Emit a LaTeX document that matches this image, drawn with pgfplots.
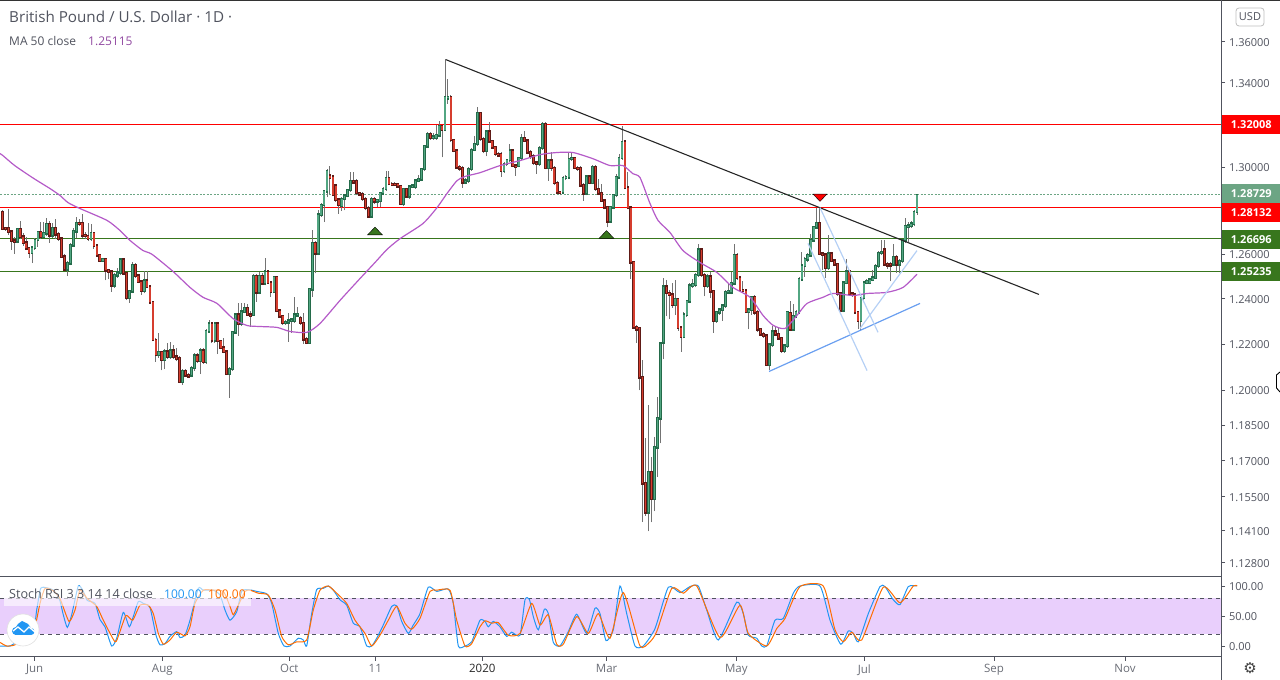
\documentclass[border=0pt]{standalone}
\usepackage{fontspec}
\setmainfont{Open Sans}
\newfontfamily\symfont{DejaVu Sans}
\usepackage{pgfplots}
\usepackage{pgfplotstable}
\pgfplotsset{compat=1.18}
\definecolor{wick}{HTML}{737373}
\definecolor{upfill}{HTML}{52A682}
\definecolor{upedge}{HTML}{246B4A}
\definecolor{dnfill}{HTML}{D63D2E}
\definecolor{dnedge}{HTML}{5E1A16}
\definecolor{maline}{HTML}{B45AC8}
\definecolor{lvlgreen}{HTML}{38761D}
\definecolor{lastgreen}{HTML}{6CA584}
\definecolor{lightblue}{HTML}{B5D0F5}
\definecolor{midblue}{HTML}{6A9FF0}
\definecolor{kblue}{HTML}{2196F3}
\definecolor{dorange}{HTML}{FF6D00}
\definecolor{band}{HTML}{E9CFFC}
\definecolor{txt}{HTML}{50535E}
\definecolor{frame}{HTML}{50535E}

% i  body-low  body-high  wick-low  wick-high
\pgfplotstableread{
i a b lo hi
5 1.2659 1.2713 1.2650 1.2718
10 1.2608 1.2630 1.2560 1.2640
11 1.2630 1.2665 1.2620 1.2675
12 1.2665 1.2700 1.2635 1.2705
14 1.2680 1.2695 1.2672 1.2745
15 1.2695 1.2736 1.2685 1.2765
17 1.2686 1.2720 1.2675 1.2740
22 1.2533 1.2560 1.2502 1.2570
23 1.2560 1.2641 1.2550 1.2650
24 1.2641 1.2704 1.2638 1.2720
25 1.2704 1.2743 1.2672 1.2770
30 1.2670 1.2695 1.2660 1.2736
34 1.2572 1.2578 1.2565 1.2585
38 1.2460 1.2505 1.2450 1.2515
39 1.2505 1.2517 1.2495 1.2540
40 1.2517 1.2575 1.2505 1.2580
43 1.2405 1.2434 1.2383 1.2440
44 1.2434 1.2551 1.2425 1.2565
48 1.2437 1.2481 1.2425 1.2525
53 1.2154 1.2164 1.2140 1.2250
55 1.2132 1.2167 1.2090 1.2178
57 1.2146 1.2171 1.2135 1.2211
61 1.2037 1.2083 1.2023 1.2090
64 1.2065 1.2096 1.2055 1.2105
65 1.2096 1.2150 1.2085 1.2160
67 1.2128 1.2171 1.2069 1.2185
69 1.2124 1.2257 1.2115 1.2265
70 1.2257 1.2289 1.2250 1.2307
72 1.2217 1.2289 1.2205 1.2295
77 1.2071 1.2092 1.1967 1.2100
78 1.2092 1.2253 1.2085 1.2260
79 1.2253 1.2330 1.2245 1.2335
81 1.2290 1.2344 1.2280 1.2380
82 1.2344 1.2358 1.2338 1.2380
85 1.2331 1.2502 1.2325 1.2510
87 1.2429 1.2502 1.2420 1.2520
89 1.2470 1.2521 1.2460 1.2582
92 1.2432 1.2496 1.2425 1.2500
96 1.2293 1.2297 1.2285 1.2305
97 1.2296 1.2304 1.2210 1.2337
98 1.2303 1.2307 1.2250 1.2315
99 1.2304 1.2330 1.2295 1.2410
100 1.2328 1.2332 1.2320 1.2366
104 1.2207 1.2443 1.2205 1.2450
105 1.2443 1.2650 1.2410 1.2710
107 1.2605 1.2781 1.2595 1.2800
108 1.2781 1.2825 1.2770 1.2835
109 1.2825 1.2889 1.2746 1.2895
110 1.2889 1.2982 1.2860 1.2992
115 1.2822 1.2853 1.2799 1.2860
116 1.2853 1.2868 1.2800 1.2875
117 1.2868 1.2894 1.2860 1.2900
118 1.2894 1.2936 1.2885 1.2977
125 1.2773 1.2851 1.2768 1.2860
127 1.2842 1.2847 1.2815 1.2855
128 1.2845 1.2879 1.2815 1.2885
129 1.2879 1.2899 1.2870 1.2910
130 1.2899 1.2950 1.2890 1.2985
136 1.2830 1.2899 1.2820 1.2905
138 1.2865 1.2910 1.2855 1.2916
139 1.2910 1.2914 1.2905 1.2922
140 1.2910 1.2938 1.2900 1.2945
141 1.2938 1.2945 1.2930 1.2965
142 1.2945 1.2992 1.2935 1.2998
143 1.2992 1.3098 1.2985 1.3105
144 1.3098 1.3156 1.3090 1.3167
146 1.3137 1.3143 1.3130 1.3160
147 1.3137 1.3151 1.3130 1.3200
148 1.3151 1.3193 1.3140 1.3219
150 1.3175 1.3331 1.3168 1.3514
151 1.3325 1.3331 1.3300 1.3419
157 1.2930 1.2938 1.2920 1.2950
158 1.2938 1.2992 1.2925 1.3000
159 1.2992 1.3081 1.2985 1.3090
160 1.3081 1.3109 1.3075 1.3148
161 1.3109 1.3254 1.3100 1.3282
164 1.3078 1.3167 1.3051 1.3175
170 1.2982 1.3015 1.2975 1.3025
171 1.3015 1.3034 1.3005 1.3040
172 1.3034 1.3078 1.3025 1.3109
175 1.3007 1.3043 1.3000 1.3050
176 1.3043 1.3137 1.3035 1.3156
182 1.3015 1.3090 1.3005 1.3100
183 1.3090 1.3204 1.3080 1.3212
185 1.2997 1.3031 1.2938 1.3040
190 1.2885 1.2950 1.2875 1.2960
191 1.2950 1.2953 1.2940 1.2965
192 1.2953 1.3039 1.2945 1.3070
193 1.3039 1.3043 1.3030 1.3070
198 1.2879 1.2956 1.2870 1.2965
200 1.2927 1.3002 1.2920 1.3012
206 1.2750 1.2814 1.2746 1.2820
207 1.2814 1.2871 1.2805 1.2875
208 1.2871 1.2953 1.2860 1.2969
209 1.2953 1.3043 1.2945 1.3060
210 1.3043 1.3118 1.3035 1.3192
219 1.1485 1.1651 1.1407 1.1935
221 1.1542 1.1756 1.1489 1.1799
222 1.1756 1.1879 1.1634 1.1973
223 1.1879 1.2203 1.1773 1.2210
224 1.2208 1.2455 1.2134 1.2492
228 1.2374 1.2399 1.2330 1.2485
231 1.2233 1.2330 1.2225 1.2340
232 1.2330 1.2389 1.2320 1.2395
233 1.2389 1.2459 1.2380 1.2470
234 1.2459 1.2465 1.2450 1.2488
235 1.2462 1.2507 1.2453 1.2515
236 1.2507 1.2621 1.2498 1.2648
239 1.2458 1.2500 1.2450 1.2510
242 1.2302 1.2340 1.2295 1.2348
243 1.2340 1.2352 1.2330 1.2360
244 1.2352 1.2369 1.2302 1.2378
245 1.2369 1.2429 1.2360 1.2440
246 1.2429 1.2433 1.2420 1.2470
247 1.2429 1.2470 1.2420 1.2522
248 1.2470 1.2596 1.2460 1.2645
253 1.2344 1.2352 1.2265 1.2360
254 1.2352 1.2408 1.2330 1.2415
260 1.2109 1.2197 1.2088 1.2205
261 1.2197 1.2254 1.2188 1.2280
265 1.2170 1.2194 1.2162 1.2202
266 1.2194 1.2340 1.2185 1.2348
268 1.2265 1.2323 1.2257 1.2375
269 1.2323 1.2340 1.2315 1.2350
270 1.2340 1.2488 1.2332 1.2497
271 1.2488 1.2549 1.2480 1.2611
272 1.2549 1.2577 1.2499 1.2590
273 1.2577 1.2596 1.2565 1.2605
274 1.2596 1.2663 1.2588 1.2694
275 1.2663 1.2724 1.2655 1.2730
276 1.2724 1.2742 1.2715 1.2812
280 1.2539 1.2603 1.2530 1.2686
285 1.2349 1.2473 1.2340 1.2480
286 1.2473 1.2522 1.2465 1.2577
291 1.2302 1.2404 1.2258 1.2410
292 1.2404 1.2473 1.2395 1.2480
293 1.2473 1.2478 1.2465 1.2490
294 1.2473 1.2485 1.2465 1.2495
295 1.2485 1.2495 1.2478 1.2529
296 1.2495 1.2547 1.2488 1.2555
297 1.2547 1.2606 1.2538 1.2615
298 1.2606 1.2611 1.2598 1.2663
302 1.2554 1.2586 1.2545 1.2648
304 1.2554 1.2570 1.2514 1.2578
305 1.2570 1.2663 1.2560 1.2670
306 1.2663 1.2728 1.2650 1.2766
307 1.2728 1.2731 1.2655 1.2745
308 1.2731 1.2739 1.2720 1.2750
309 1.2739 1.2793 1.2727 1.2800
310 1.2793 1.2870 1.2780 1.2877
}\candlesUp

\pgfplotstableread{
i a b lo hi
0 1.2717 1.2792 1.2710 1.2800
1 1.2715 1.2719 1.2708 1.2725
2 1.2702 1.2719 1.2687 1.2807
3 1.2662 1.2702 1.2620 1.2710
4 1.2657 1.2662 1.2602 1.2680
6 1.2680 1.2713 1.2670 1.2750
7 1.2653 1.2680 1.2640 1.2695
8 1.2627 1.2653 1.2620 1.2680
9 1.2608 1.2627 1.2582 1.2635
13 1.2680 1.2700 1.2670 1.2745
16 1.2686 1.2736 1.2653 1.2750
18 1.2690 1.2720 1.2670 1.2762
19 1.2670 1.2690 1.2660 1.2700
20 1.2590 1.2670 1.2585 1.2675
21 1.2533 1.2590 1.2528 1.2600
26 1.2739 1.2743 1.2730 1.2760
27 1.2687 1.2740 1.2675 1.2785
28 1.2683 1.2687 1.2670 1.2700
29 1.2670 1.2683 1.2660 1.2740
31 1.2640 1.2695 1.2625 1.2700
32 1.2596 1.2640 1.2590 1.2645
33 1.2572 1.2596 1.2565 1.2600
35 1.2527 1.2578 1.2482 1.2585
36 1.2521 1.2527 1.2487 1.2535
37 1.2460 1.2521 1.2432 1.2530
41 1.2514 1.2575 1.2505 1.2580
42 1.2405 1.2514 1.2395 1.2520
45 1.2504 1.2551 1.2495 1.2560
46 1.2477 1.2504 1.2470 1.2510
47 1.2437 1.2477 1.2418 1.2485
49 1.2455 1.2481 1.2450 1.2525
50 1.2385 1.2455 1.2380 1.2460
51 1.2218 1.2385 1.2212 1.2390
52 1.2154 1.2218 1.2124 1.2225
54 1.2132 1.2164 1.2086 1.2172
56 1.2146 1.2167 1.2135 1.2207
58 1.2146 1.2171 1.2135 1.2195
59 1.2135 1.2146 1.2125 1.2185
60 1.2037 1.2138 1.2031 1.2150
62 1.2065 1.2083 1.2060 1.2090
63 1.2061 1.2065 1.2055 1.2075
66 1.2128 1.2150 1.2118 1.2160
68 1.2124 1.2171 1.2115 1.2185
71 1.2217 1.2289 1.2205 1.2295
73 1.2214 1.2289 1.2157 1.2295
74 1.2185 1.2214 1.2178 1.2220
75 1.2167 1.2185 1.2160 1.2228
76 1.2071 1.2167 1.2065 1.2175
80 1.2290 1.2330 1.2235 1.2383
83 1.2331 1.2358 1.2325 1.2375
84 1.2328 1.2331 1.2278 1.2345
86 1.2429 1.2502 1.2388 1.2510
88 1.2470 1.2502 1.2465 1.2515
90 1.2473 1.2521 1.2465 1.2530
91 1.2432 1.2473 1.2410 1.2480
93 1.2348 1.2496 1.2340 1.2500
94 1.2322 1.2348 1.2315 1.2355
95 1.2293 1.2322 1.2285 1.2330
101 1.2293 1.2315 1.2285 1.2325
102 1.2221 1.2293 1.2200 1.2337
103 1.2207 1.2221 1.2200 1.2230
106 1.2605 1.2650 1.2514 1.2660
111 1.2950 1.2960 1.2876 1.3007
112 1.2872 1.2956 1.2865 1.2965
113 1.2850 1.2914 1.2840 1.2920
114 1.2825 1.2850 1.2784 1.2855
119 1.2930 1.2936 1.2925 1.2977
120 1.2880 1.2936 1.2870 1.2945
121 1.2874 1.2880 1.2865 1.2885
122 1.2853 1.2875 1.2845 1.2885
123 1.2811 1.2853 1.2800 1.2860
124 1.2773 1.2811 1.2765 1.2820
126 1.2842 1.2851 1.2830 1.2860
131 1.2922 1.2950 1.2915 1.2985
132 1.2918 1.2922 1.2912 1.2930
133 1.2918 1.2922 1.2912 1.2930
134 1.2911 1.2922 1.2905 1.2928
135 1.2830 1.2911 1.2825 1.2918
137 1.2865 1.2899 1.2860 1.2905
145 1.3137 1.3156 1.3130 1.3165
149 1.3175 1.3193 1.3046 1.3200
152 1.3128 1.3331 1.3120 1.3340
153 1.3078 1.3128 1.3070 1.3135
154 1.3000 1.3078 1.2995 1.3085
155 1.2995 1.3000 1.2985 1.3010
156 1.2930 1.2997 1.2906 1.3005
162 1.3133 1.3254 1.3125 1.3260
163 1.3078 1.3133 1.3065 1.3140
165 1.3122 1.3167 1.3115 1.3212
166 1.3093 1.3122 1.3085 1.3130
167 1.3062 1.3093 1.3055 1.3100
168 1.3056 1.3062 1.3050 1.3070
169 1.2982 1.3062 1.2956 1.3070
173 1.3007 1.3078 1.3000 1.3085
174 1.3002 1.3007 1.2960 1.3015
177 1.3125 1.3137 1.3118 1.3172
178 1.3070 1.3125 1.3060 1.3130
179 1.3052 1.3070 1.3040 1.3080
180 1.3022 1.3052 1.3010 1.3060
181 1.3015 1.3022 1.2970 1.3030
184 1.2997 1.3204 1.2990 1.3212
186 1.2997 1.3031 1.2985 1.3070
187 1.2927 1.2997 1.2915 1.3005
188 1.2885 1.2927 1.2875 1.2935
189 1.2880 1.2885 1.2870 1.2890
194 1.2997 1.3042 1.2990 1.3050
195 1.2992 1.2997 1.2985 1.3005
196 1.2916 1.2997 1.2908 1.3005
197 1.2879 1.2916 1.2845 1.2925
199 1.2927 1.2956 1.2920 1.2962
201 1.2899 1.3002 1.2890 1.3010
202 1.2879 1.2899 1.2870 1.2945
203 1.2845 1.2879 1.2840 1.2922
204 1.2814 1.2845 1.2805 1.2850
205 1.2750 1.2814 1.2723 1.2820
211 1.2905 1.3120 1.2897 1.3130
212 1.2813 1.2905 1.2805 1.2977
213 1.2563 1.2813 1.2491 1.2820
214 1.2274 1.2563 1.2265 1.2570
215 1.2265 1.2274 1.2204 1.2285
216 1.2055 1.2270 1.1999 1.2275
217 1.1605 1.2055 1.1445 1.2129
218 1.1485 1.1605 1.1472 1.1795
220 1.1542 1.1651 1.1444 1.1714
225 1.2426 1.2455 1.2323 1.2485
226 1.2418 1.2426 1.2309 1.2440
227 1.2374 1.2418 1.2360 1.2470
229 1.2273 1.2399 1.2260 1.2405
230 1.2233 1.2273 1.2168 1.2280
237 1.2507 1.2621 1.2498 1.2630
238 1.2458 1.2507 1.2411 1.2515
240 1.2433 1.2500 1.2404 1.2522
241 1.2302 1.2433 1.2251 1.2440
249 1.2495 1.2596 1.2486 1.2605
250 1.2440 1.2495 1.2433 1.2502
251 1.2436 1.2440 1.2428 1.2478
252 1.2344 1.2437 1.2335 1.2445
255 1.2340 1.2408 1.2330 1.2418
256 1.2265 1.2340 1.2255 1.2350
257 1.2244 1.2265 1.2235 1.2272
258 1.2237 1.2244 1.2228 1.2252
259 1.2109 1.2237 1.2106 1.2245
262 1.2244 1.2254 1.2236 1.2275
263 1.2225 1.2244 1.2218 1.2270
264 1.2170 1.2225 1.2162 1.2232
267 1.2265 1.2337 1.2257 1.2389
277 1.2603 1.2742 1.2595 1.2815
278 1.2598 1.2603 1.2529 1.2610
279 1.2539 1.2598 1.2492 1.2605
281 1.2571 1.2603 1.2563 1.2610
282 1.2554 1.2571 1.2545 1.2577
283 1.2423 1.2554 1.2415 1.2560
284 1.2349 1.2423 1.2340 1.2430
287 1.2423 1.2522 1.2415 1.2530
288 1.2418 1.2423 1.2410 1.2430
289 1.2340 1.2418 1.2332 1.2425
290 1.2302 1.2340 1.2265 1.2348
299 1.2554 1.2621 1.2545 1.2663
300 1.2550 1.2554 1.2535 1.2565
301 1.2550 1.2554 1.2478 1.2565
303 1.2554 1.2586 1.2517 1.2595
}\candlesDown

\pgfplotstableread{
x p
0 1.3064
3 1.3054
15 1.3007
34 1.2947
50 1.2901
60 1.2869
68 1.2836
80 1.2809
107 1.2754
120 1.2708
130 1.2663
143 1.2617
152 1.2600
173 1.2523
190 1.2451
203 1.2407
217 1.2380
233 1.2313
247 1.2282
260 1.2278
277 1.2274
290 1.2256
307 1.2252
320 1.2291
340 1.2393
360 1.2491
375 1.2563
387 1.2622
400 1.2671
423 1.2740
437 1.2813
447 1.2878
457 1.2938
465 1.2957
480 1.2975
500 1.3008
520 1.3031
540 1.3059
557 1.3069
573 1.3069
593 1.3040
610 1.3008
623 1.3008
633 1.2970
640 1.2952
650 1.2832
658 1.2754
670 1.2699
683 1.2617
700 1.2563
717 1.2518
733 1.2451
750 1.2407
763 1.2327
773 1.2283
785 1.2269
797 1.2327
807 1.2380
823 1.2407
833 1.2424
853 1.2415
867 1.2424
887 1.2429
903 1.2451
917 1.2510
}\maTable

\pgfplotstableread{
x v
0 0
10 0
16.7 7
33.3 27
36.7 60
40.7 96
46.7 97
53.3 93
59.3 79
63.3 52
67.3 31
71.7 52
78.3 100
83.3 91
87.3 76
95 71
100 44
105 32
111.7 0
116.7 13
123.3 56
129.3 32
133.3 49
138.3 74
143.3 71
150 64
156 18
160 2
165 4
170 16
176.7 24
180 14
185 18
190 43
198.3 96
203.3 93
213.3 93
220 85
225 60
230 43
236.7 57
241.7 91
248.3 94
256.7 91
266.7 87
271.7 71
278.3 21
284 0
290 0
298.3 13
303.3 10
306.7 0
311.7 54
316.7 94
323.3 96
328.3 100
333.3 93
340 77
346.7 68
353.3 38
360 32
366.7 0
371.7 0
376.7 13
383.3 35
391.7 66
396.7 67
401.7 41
408.3 21
413.3 35
420 54
428.3 98
436.7 91
448.3 95
453.3 71
458.3 0
465 0
471.7 7
480 43
485 41
488.3 32
493.3 41
500 32
506.7 16
511.7 23
520 18
525 77
529.3 78
533.3 49
538.3 27
544.3 61
548.3 54
553.3 6
560 0
568.3 24
576.7 53
586.7 21
595 63
600 54
606 9
613.3 27
620 100
626.7 54
635 0
643.3 0
655 29
668.3 98
680 89
690 99
698.3 100
706.7 60
718.3 10
736.7 73
743.3 54
748.3 18
756.7 13
761.7 0
766.7 0
775 43
783.3 46
793.3 88
800 100
820 100
830 43
840.7 3
848.3 25
853.3 21
858.3 7
868.3 54
880 99
885 99
893.3 77
900 69
908.3 99
916.7 100
}\kTable

\pgfplotstableread{
x v
0 6
6.7 0
15 2
23.3 16
33.3 21
40 71
45 96
53.3 92
60 79
69 41
75 60
80 93
87.3 79
96.7 66
103.3 43
115 7
119.3 21
126 51
132.7 43
140 68
148.3 68
153.3 54
158.3 21
163.3 3
170 10
176.7 23
185 17
190 32
195 71
203.3 93
213.3 93
223.3 91
230 66
233.3 52
238.3 68
245 91
250 93
258.3 88
268.3 85
275 60
281.7 16
288.3 2
296.7 7
306.7 10
313.3 60
320 93
328.3 100
336.7 88
346.7 71
355 43
365 21
371.7 0
380 18
388.3 43
396.7 66
405 38
411.7 28
420 46
430 91
436.7 93
450 93
456.7 43
465 0
471.7 4
480 32
485 42
491.7 38
498.3 39
508.3 18
520 21
531.7 71
540 35
548.3 52
556.7 3
563.3 3
576.7 49
588.3 21
598.3 54
610 13
623.3 89
640 0
650 7
656.7 24
671.7 96
683.3 88
696.7 100
720 14
740 68
748.3 21
766.7 0
776.7 29
785 46
800 99
823.3 100
835 27
843.3 7
851.7 23
861.7 10
883.3 98
900 72
913.3 100
917.3 100
}\dTable

\begin{document}
\begin{tikzpicture}
\path[use as bounding box] (0,0) rectangle (1280pt,680pt);

% ---------- price pane (log price scale through y coord trafo) ----------
\begin{axis}[
  at={(0pt,102.4pt)}, anchor=south west,
  scale only axis, width=1221pt, height=577pt,
  xmin=0, xmax=1221,
  y coord trafo/.code={\pgfmathparse{100*ln(#1)}},
  ymin=1.12197, ymax=1.38016,
  clip=false,
  axis line style={draw=none},
  xtick=\empty,
  ytick pos=right, yticklabel pos=right,
  ytick={1.36,1.34,1.30,1.26,1.24,1.22,1.20,1.185,1.17,1.155,1.141,1.128},
  yticklabels={1.36000,1.34000,1.30000,1.26000,1.24000,1.22000,1.20000,1.18500,1.17000,1.15500,1.14100,1.12800},
  yminorticks=false,
  scaled y ticks=false,
  tick align=outside, major tick length=4pt,
  tick style={draw=frame,line width=0.8pt},
  yticklabel style={font=\fontsize{11}{13}\selectfont, text=txt, anchor=west, xshift=0.5pt, yshift=-0.6pt},
]
% horizontal levels
\addplot[red, line width=1pt] coordinates {(0,1.32008)(1221,1.32008)};
\addplot[red, line width=1pt] coordinates {(0,1.28132)(1221,1.28132)};
\addplot[lvlgreen, line width=1pt] coordinates {(0,1.26696)(1221,1.26696)};
\addplot[lvlgreen, line width=1pt] coordinates {(0,1.25235)(1221,1.25235)};
\addplot[lastgreen, line width=0.8pt, dash pattern=on 2pt off 1.5pt] coordinates {(0,1.28729)(1221,1.28729)};

% wicks
\addplot[draw=none, error bars/.cd, y dir=plus, y explicit, error mark=none,
  error bar style={draw=wick,line width=1pt}]
  table[x expr=2.5+2.95*\thisrow{i}, y=lo, y error expr=100*ln(\thisrow{hi})-100*ln(\thisrow{lo})] {\candlesUp};
\addplot[draw=none, error bars/.cd, y dir=plus, y explicit, error mark=none,
  error bar style={draw=wick,line width=1pt}]
  table[x expr=2.5+2.95*\thisrow{i}, y=lo, y error expr=100*ln(\thisrow{hi})-100*ln(\thisrow{lo})] {\candlesDown};
% body edges
\addplot[draw=none, error bars/.cd, y dir=plus, y explicit, error mark=none,
  error bar style={draw=upedge,line width=2.8pt,line cap=rect}]
  table[x expr=2.5+2.95*\thisrow{i}, y=a, y error expr=100*ln(\thisrow{b})-100*ln(\thisrow{a})] {\candlesUp};
\addplot[draw=none, error bars/.cd, y dir=plus, y explicit, error mark=none,
  error bar style={draw=dnedge,line width=2.8pt,line cap=rect}]
  table[x expr=2.5+2.95*\thisrow{i}, y=a, y error expr=100*ln(\thisrow{b})-100*ln(\thisrow{a})] {\candlesDown};
% body fills
\addplot[draw=none, error bars/.cd, y dir=plus, y explicit, error mark=none,
  error bar style={draw=upfill,line width=1.5pt}]
  table[x expr=2.5+2.95*\thisrow{i}, y=a, y error expr=100*ln(\thisrow{b})-100*ln(\thisrow{a})] {\candlesUp};
\addplot[draw=none, error bars/.cd, y dir=plus, y explicit, error mark=none,
  error bar style={draw=dnfill,line width=1.5pt}]
  table[x expr=2.5+2.95*\thisrow{i}, y=a, y error expr=100*ln(\thisrow{b})-100*ln(\thisrow{a})] {\candlesDown};

% moving average
\addplot[maline, line width=1.2pt, smooth, tension=0.4] table[x=x,y=p] {\maTable};

% trend lines
\addplot[black!85, line width=1.1pt] coordinates {(446,1.3512)(1039,1.2420)};
\addplot[midblue, line width=1.2pt] coordinates {(769,1.2081)(920,1.2380)};
\addplot[lightblue, line width=1.2pt] coordinates {(820,1.2813)(878,1.2252)};
\addplot[lightblue, line width=1.2pt] coordinates {(808,1.2649)(867,1.2085)};
\addplot[lightblue, line width=1.2pt] coordinates {(860,1.2269)(917,1.2617)};

% arrows
\addplot[only marks, mark=triangle*, mark size=8.6pt, mark options={yscale=.6, fill=lvlgreen, draw=none}]
  coordinates {(375,1.2700)(606.5,1.2684)};
\addplot[only marks, mark=triangle*, mark size=8.1pt, mark options={yscale=-.6, fill=red, draw=none}]
  coordinates {(820,1.2864)};
\end{axis}

% ---------- Stoch RSI pane ----------
\begin{axis}[
  at={(0pt,23pt)}, anchor=south west,
  scale only axis, width=1221pt, height=80pt,
  xmin=0, xmax=1221, ymin=-18.33, ymax=115,
  clip=false,
  axis line style={draw=none},
  ytick pos=right, yticklabel pos=right,
  ytick={0,50,100}, yticklabels={0.00,50.00,100.00},
  xtick pos=bottom,
  xtick={34.7,162.3,289.3,375.3,482.3,606.7,736.3,864.3,994,1125},
  xticklabels={Jun,Aug,Oct,11,{\textcolor{black!85}{2020}},Mar,May,Jul,Sep,Nov},
  tick align=outside, major tick length=4pt,
  tick style={draw=frame,line width=0.8pt},
  yticklabel style={font=\fontsize{11}{13}\selectfont, text=txt, anchor=west, xshift=0.5pt, yshift=-0.6pt},
  xticklabel style={font=\fontsize{11.5}{13}\selectfont, text=txt!85},
]
\addplot[draw=none, fill=band] coordinates {(0,20)(1221,20)(1221,80)(0,80)} -- cycle;
\addplot[txt, line width=0.8pt, dash pattern=on 4pt off 4pt] coordinates {(0,80)(1221,80)};
\addplot[txt, line width=0.8pt, dash pattern=on 4pt off 4pt] coordinates {(0,20)(1221,20)};
\addplot[kblue, line width=1pt, smooth, tension=0.35] table[x=x,y=v] {\kTable};
\addplot[dorange, line width=1pt, smooth, tension=0.35] table[x=x,y=v] {\dTable};
\end{axis}

% ---------- frame, labels, tags (screen coordinates: y down from the top) ----------
\begin{scope}[shift={(0pt,680pt)},x=1pt,y=-1pt]
\draw[black!80,line width=1pt] (0,0.5) -- (1280,0.5);
\draw[frame,line width=1pt] (0,577) -- (1221,577);
\draw[frame,line width=1pt] (0,657) -- (1221,657);
\draw[frame,line width=1pt] (1221,0) -- (1221,680);

\node[anchor=base west,inner sep=0,font=\fontsize{15.2}{17}\selectfont,text=txt] at (9,23) {British Pound / U.S. Dollar · 1D ·};
\node[anchor=base west,inner sep=0,font=\fontsize{12}{14}\selectfont,text=txt] at (9,46) {MA 50 close};
\node[anchor=base west,inner sep=0,font=\fontsize{12}{14}\selectfont,text=maline!80!black] at (88,46) {1.25115};

\fill[white,opacity=.6] (4,586) rectangle (251,606);
\node[anchor=base west,inner sep=0,font=\fontsize{12.6}{14}\selectfont,text=txt] at (9,599) {Stoch RSI 3 3 14 14 close};
\node[anchor=base west,inner sep=0,font=\fontsize{12}{14}\selectfont,text=kblue] at (164,599) {100.00};
\node[anchor=base west,inner sep=0,font=\fontsize{12}{14}\selectfont,text=dorange] at (208,599) {100.00};

% logo
\fill[white] (23,630) circle[radius=16];
\draw[black!12,line width=.6pt] (23,630) circle[radius=16];
\fill[kblue] (15,635) -- (31,635) arc[start angle=90,end angle=-90,radius=3.5] -- (31,628) -- (28,624) -- (22,621) -- (18,624) -- (16,627) arc[start angle=-90,end angle=-270,radius=4] -- cycle;
\draw[white,line width=1.3pt] (13,631) -- (18,627) -- (24,632) -- (29,627) -- (35,632);

% price tags
\foreach \yy/\col/\lab in {124.5/red/1.32008, 194/lastgreen/1.28729, 212.5/red/1.28132, 239.5/lvlgreen/1.26696, 271.5/lvlgreen/1.25235}{
  \node[fill=\col,text=white,anchor=west,minimum width=59pt,minimum height=19pt,inner sep=0,
    font=\fontsize{11}{13}\selectfont\bfseries] at (1221.5,\yy) {\lab};
}
% currency button
\draw[black!25,rounded corners=3pt,line width=.8pt,fill=white] (1236,8) rectangle (1264,26);
\node[font=\fontsize{11}{13}\selectfont,text=txt] at (1250,17) {USD};
% gear
\node[font=\symfont\fontsize{15}{16}\selectfont,text=black!75] at (1250,668.5) {⚙};
% cursor at the edge
\draw[black,line width=.9pt,fill=white] (1280,372) -- (1276.5,375) -- (1276.5,388) -- (1280,392);
\end{scope}
\end{tikzpicture}
\end{document}
